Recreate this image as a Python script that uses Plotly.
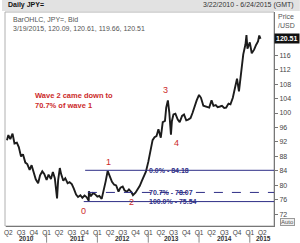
import plotly.graph_objects as go

# ---- data ----
dates = [
    "2010-03-22", "2010-04-01", "2010-04-15", "2010-05-01", "2010-05-15", "2010-06-01", "2010-06-15",
    "2010-07-01", "2010-07-15", "2010-08-01", "2010-08-15", "2010-09-01", "2010-09-15", "2010-10-01",
    "2010-10-15", "2010-11-01", "2010-11-15", "2010-12-01", "2010-12-15", "2011-01-01", "2011-01-15",
    "2011-02-01", "2011-02-15", "2011-03-01", "2011-03-17", "2011-03-25", "2011-04-06", "2011-04-15",
    "2011-05-01", "2011-05-15", "2011-06-01", "2011-06-15", "2011-07-01", "2011-07-15", "2011-08-01",
    "2011-08-15", "2011-09-01", "2011-09-15", "2011-10-01", "2011-10-15", "2011-10-31", "2011-11-01",
    "2011-11-15", "2011-12-01", "2011-12-15", "2012-01-01", "2012-01-15", "2012-02-01", "2012-02-15",
    "2012-03-01", "2012-03-15", "2012-04-01", "2012-04-15", "2012-05-01", "2012-05-15", "2012-06-01",
    "2012-06-15", "2012-07-01", "2012-07-15", "2012-08-01", "2012-08-15", "2012-09-01", "2012-09-13",
    "2012-10-01", "2012-10-15", "2012-11-01", "2012-11-15", "2012-12-01", "2012-12-15", "2013-01-01",
    "2013-01-15", "2013-02-01", "2013-02-15", "2013-03-01", "2013-03-15", "2013-04-01", "2013-04-15",
    "2013-05-01", "2013-05-10", "2013-05-22", "2013-06-01", "2013-06-13", "2013-06-20", "2013-07-01",
    "2013-07-15", "2013-08-01", "2013-08-15", "2013-09-01", "2013-09-15", "2013-10-01", "2013-10-15",
    "2013-11-01", "2013-11-15", "2013-12-01", "2013-12-15", "2014-01-01", "2014-01-15", "2014-02-01",
    "2014-02-15", "2014-03-01", "2014-03-15", "2014-04-01", "2014-04-15", "2014-05-01", "2014-05-15",
    "2014-06-01", "2014-06-15", "2014-07-01", "2014-07-15", "2014-08-01", "2014-08-15", "2014-09-01",
    "2014-09-15", "2014-10-01", "2014-10-15", "2014-11-01", "2014-11-15", "2014-12-01", "2014-12-08",
    "2014-12-15", "2015-01-01", "2015-01-15", "2015-02-01", "2015-02-15", "2015-03-01", "2015-03-10",
    "2015-03-19",
]
closes = [
    92.5, 93.9, 92.8, 94.3, 91.6, 91.8, 90.6,
    88.0, 88.6, 86.3, 85.9, 84.3, 85.6, 83.2,
    81.7, 80.6, 82.8, 83.9, 83.2, 81.5, 83.0,
    81.8, 83.7, 82.0, 76.4, 81.5, 84.8, 83.2,
    81.3, 82.0, 80.6, 80.9, 80.4, 79.2, 77.5,
    76.8, 77.3, 76.6, 77.2, 76.8, 75.8, 78.4,
    77.0, 77.9, 77.6, 76.9, 77.1, 76.3, 78.5,
    81.2, 84.0, 82.6, 81.0, 80.2, 80.0, 78.3,
    79.4, 79.7, 78.6, 78.3, 78.9, 78.2, 77.3,
    78.0, 78.8, 79.9, 81.2, 82.4, 83.8, 86.5,
    89.0, 92.5, 93.3, 93.6, 95.5, 93.2, 97.5,
    97.8, 101.5, 103.5, 100.2, 94.0, 97.8, 99.6,
    99.8, 98.2, 97.5, 99.2, 99.6, 98.0, 98.2,
    98.6, 100.0, 102.3, 103.5, 105.0, 104.2, 102.0,
    101.8, 101.8, 101.5, 103.5, 102.0, 102.2, 101.6,
    101.8, 102.0, 101.4, 101.5, 102.6, 102.4, 104.2,
    107.2, 109.5, 106.0, 112.5, 116.2, 119.0, 121.5,
    117.8, 119.5, 116.5, 117.5, 118.8, 119.8, 121.4,
    120.51,
]

y_ticks = [72, 76, 80, 84, 88, 92, 96, 100, 104, 108, 112, 116]
q_dates = ["2010-04-01", "2010-07-01", "2010-10-01", "2011-01-01", "2011-04-01", "2011-07-01",
           "2011-10-01", "2012-01-01", "2012-04-01", "2012-07-01", "2012-10-01", "2013-01-01",
           "2013-04-01", "2013-07-01", "2013-10-01", "2014-01-01", "2014-04-01", "2014-07-01",
           "2014-10-01", "2015-01-01", "2015-04-01"]
q_labels = ["Q2", "Q3", "Q4", "Q1", "Q2", "Q3", "Q4", "Q1", "Q2", "Q3", "Q4", "Q1",
            "Q2", "Q3", "Q4", "Q1", "Q2", "Q3", "Q4", "Q1", "Q2"]
years = ["2010", "2011", "2012", "2013", "2014", "2015"]
year_pos = ["2010-08-10", "2011-08-10", "2012-07-01", "2013-06-20", "2014-07-01", "2015-04-12"]
year_starts = ["2011-01-01", "2012-01-01", "2013-01-01", "2014-01-01", "2015-01-01"]

fib_levels = [84.18, 78.07, 75.54]
fib_names = ["0.0%", "70.7%", "100.0%"]
fib_start = ["2011-10-05", "2011-10-25", "2011-09-25"]
fib_dash = ["solid", "dash", "solid"]

wave_labels = ["0", "1", "2", "3", "4"]
wave_x = ["2011-09-23", "2012-03-20", "2012-08-31", "2013-05-08", "2013-07-26"]
wave_y = [72.9, 86.4, 75.4, 106.3, 91.7]

last_price = 120.51
X0, X1 = "2010-03-15", "2015-06-24"
FONT = "Liberation Sans"
NAVY = "#2e2e86"
RED = "#cc2a2a"

fig = go.Figure()
fig.add_trace(go.Scatter(x=dates, y=closes, mode="lines",
                         line=dict(color="#1c1c1c", width=1.9), hoverinfo="skip"))

shapes = []
shapes.append(dict(type="rect", xref="paper", yref="paper", x0=-4/270, x1=1+26/270,
                   y0=1+1/214, y1=1+12/214, fillcolor="#e2e2e2", line=dict(width=0), layer="below"))
shapes.append(dict(type="rect", xref="paper", yref="paper", x0=-1/270, x1=1, y0=0, y1=1,
                   line=dict(color="#b0b0b0", width=1), layer="below"))
for lvl, st, ds in zip(fib_levels, fib_start, fib_dash):
    shapes.append(dict(type="line", xref="x", yref="y", x0=st, x1=X1, y0=lvl, y1=lvl,
                       line=dict(color=NAVY, width=1, dash=ds)))
for ys in year_starts:
    shapes.append(dict(type="line", xref="x", yref="paper", x0=ys, x1=ys, y0=-0.03, y1=-0.078,
                       line=dict(color="#888", width=1)))

ann = []
ann.append(dict(text="<b>Daily JPY=</b>", xref="paper", yref="paper", x=0, y=1+6.5/214,
                xanchor="left", yanchor="middle", showarrow=False, font=dict(size=7, color="#111", family=FONT)))
ann.append(dict(text="3/22/2010 - 6/24/2015 (GMT)", xref="paper", yref="paper", x=1+22/270, y=1+6.5/214,
                xanchor="right", yanchor="middle", showarrow=False, font=dict(size=7, color="#333", family=FONT)))
ann.append(dict(text="BarOHLC, JPY=, Bid<br>3/19/2015, 120.09, 120.61, 119.66, 120.51",
                xref="paper", yref="paper", x=5/270, y=1-2/214, xanchor="left", yanchor="top", align="left",
                showarrow=False, font=dict(size=7, color="#555", family=FONT)))
ann.append(dict(text="Price<br>/USD", xref="paper", yref="paper", x=1+2/270, y=1+1/214,
                xanchor="left", yanchor="top", align="left", showarrow=False,
                font=dict(size=7, color="#555", family=FONT)))
ann.append(dict(text="<b>%.2f</b>" % last_price, xref="paper", yref="y", x=1, y=last_price,
                xanchor="left", yanchor="middle", showarrow=False, bgcolor="#111", borderpad=1,
                font=dict(size=7, color="white", family=FONT)))
ann.append(dict(text="Auto", xref="paper", yref="paper", x=1+6/270, y=4/214,
                xanchor="left", yanchor="middle", showarrow=False, bgcolor="#f0f0f0",
                bordercolor="#999", borderwidth=1, borderpad=0,
                font=dict(size=6, color="#555", family=FONT)))
ann.append(dict(text="<b>Wave 2 came down to<br>70.7% of wave 1</b>", xref="paper", yref="paper",
                x=27/270, y=1-77/214, xanchor="left", yanchor="top", align="left", showarrow=False,
                font=dict(size=7.5, color=RED, family=FONT)))
for t, wx, wy in zip(wave_labels, wave_x, wave_y):
    ann.append(dict(text=t, x=wx, y=wy, xref="x", yref="y", showarrow=False,
                    font=dict(size=9, color=RED, family=FONT)))
for nm, lvl in zip(fib_names, fib_levels):
    ann.append(dict(text="<b>%s - %.2f</b>" % (nm, lvl), x="2012-12-21", y=lvl, xref="x", yref="y",
                    xanchor="left", yanchor="middle", showarrow=False,
                    font=dict(size=7, color=NAVY, family=FONT)))
for yr, yp in zip(years, year_pos):
    ann.append(dict(text="<b>%s</b>" % yr, x=yp, y=-12.5/214, xref="x", yref="paper",
                    xanchor="center", yanchor="middle", showarrow=False,
                    font=dict(size=6.5, color="#333", family=FONT)))

fig.update_layout(
    width=300, height=243, margin=dict(l=4, r=26, t=12, b=17),
    paper_bgcolor="white", plot_bgcolor="white", showlegend=False,
    shapes=shapes, annotations=ann,
    font=dict(family=FONT),
    xaxis=dict(type="date", range=[X0, X1], tickvals=q_dates, ticktext=q_labels,
               showgrid=False, zeroline=False, showline=True, linecolor="#777", linewidth=1,
               ticks="", ticklabelstandoff=0,
               tickfont=dict(size=6.5, color="#444", family=FONT)),
    yaxis=dict(side="right", range=[68.8, 127.9], tickvals=y_ticks,
               showgrid=False, zeroline=False, showline=True, linecolor="#777", linewidth=1,
               ticks="outside", ticklen=3, tickcolor="#777",
               tickfont=dict(size=7, color="#444", family=FONT)),
)

fig.write_html("out.html")
